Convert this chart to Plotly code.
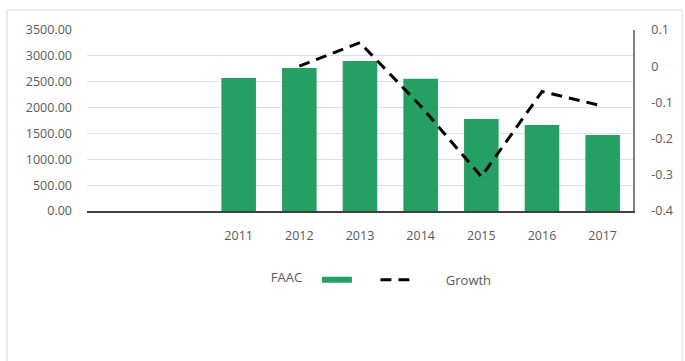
import plotly.graph_objects as go

# FAAC allocations and year-on-year growth
years = [2011, 2012, 2013, 2014, 2015, 2016, 2017]
faac = [2570, 2765, 2900, 2555, 1780, 1665, 1470]
growth = [None, 0.0, 0.065, -0.11, -0.305, -0.07, -0.11]

left_ticks = [0, 500, 1000, 1500, 2000, 2500, 3000, 3500]
left_labels = ["0.00", "500.00", "1000.00", "1500.00", "2000.00", "2500.00", "3000.00", "3500.00"]
right_ticks = [-0.4, -0.3, -0.2, -0.1, 0, 0.1]
right_labels = ["-0.4", "-0.3", "-0.2", "-0.1", "0", "0.1"]

GREEN = "#24a062"
TEXT = "#595959"
FONT = "Open Sans"
NBSP = "\u00a0"

fig = go.Figure()

fig.add_trace(go.Bar(
    x=years, y=faac, name="FAAC", width=0.57,
    marker=dict(color=GREEN, line=dict(width=0)),
    showlegend=False, legendgroup="faac",
))

# wide swatch for the FAAC legend entry
fig.add_trace(go.Scatter(
    x=[None], y=[None], mode="lines", name=NBSP * 4,
    line=dict(color=GREEN, width=6), legendgroup="faac",
))

fig.add_trace(go.Scatter(
    x=years, y=growth, name=NBSP * 9 + "Growth", yaxis="y2", mode="lines",
    line=dict(color="black", width=3, dash="11px,7px"),
    connectgaps=False,
))

fig.update_layout(
    width=685, height=361,
    margin=dict(l=87, r=45, t=30, b=150),
    paper_bgcolor="white", plot_bgcolor="white",
    font=dict(family=FONT, size=12.5, color=TEXT),
    xaxis=dict(
        range=[2008.5, 2017.5],
        tickmode="array", tickvals=years, ticktext=[str(y) for y in years],
        showgrid=False, zeroline=False,
        showline=True, linecolor="#404040", linewidth=1.5,
        ticks="", ticklabelstandoff=12,
    ),
    yaxis=dict(
        range=[0, 3500],
        tickmode="array", tickvals=left_ticks, ticktext=left_labels,
        showgrid=True, gridcolor="#e0e0e0", gridwidth=1,
        zeroline=False, showline=False, ticks="",
        ticklabelstandoff=14,
    ),
    yaxis2=dict(
        range=[-0.4, 0.1], overlaying="y", side="right",
        tickmode="array", tickvals=right_ticks, ticktext=right_labels,
        showgrid=False, zeroline=False,
        showline=True, linecolor="#808080", linewidth=1.5,
        ticks="", ticklabelstandoff=14,
    ),
    legend=dict(
        orientation="h", x=0.333, xanchor="left", y=-0.38, yanchor="middle",
        title=dict(text="FAAC" + NBSP * 2, side="left", font=dict(size=13, color=TEXT)),
        font=dict(size=13, color=TEXT),
        bgcolor="rgba(0,0,0,0)",
    ),
    shapes=[dict(
        type="rect", xref="paper", yref="paper",
        x0=-0.1465, x1=1.09, y0=-0.88, y1=1.11,
        line=dict(color="#d9d9d9", width=1), fillcolor="rgba(0,0,0,0)",
        layer="below",
    )],
)

fig.write_html("out.html")
